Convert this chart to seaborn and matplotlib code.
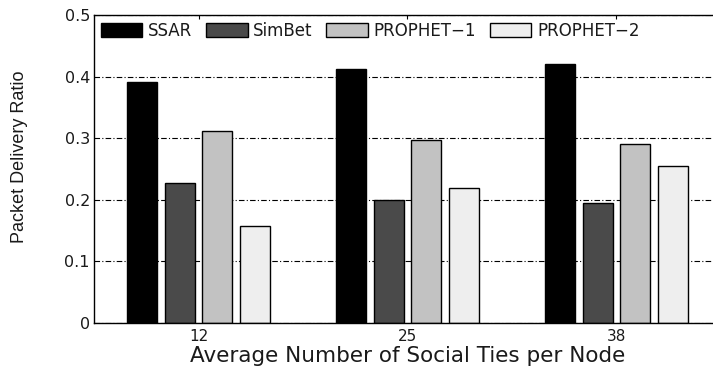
import numpy as np
import pandas as pd
import matplotlib
matplotlib.use('Agg')
import matplotlib.pyplot as plt
import seaborn as sns

# values
ties = ['12', '25', '38']
ssar = [0.392, 0.412, 0.420]
simbet = [0.228, 0.200, 0.194]
prophet1 = [0.311, 0.297, 0.290]
prophet2 = [0.157, 0.219, 0.255]
methods = ['SSAR', 'SimBet', 'PROPHET\u22121', 'PROPHET\u22122']
colors = ['#000000', '#4a4a4a', '#c2c2c2', '#eeeeee']
y_ticks = [0, 0.1, 0.2, 0.3, 0.4, 0.5]
y_labels = ['0', '0.1', '0.2', '0.3', '0.4', '0.5']


def main():
    sns.set_style('white')
    plt.rcParams['font.family'] = ['DejaVu Sans']

    rows = []
    for name, vals in zip(methods, [ssar, simbet, prophet1, prophet2]):
        for t, v in zip(ties, vals):
            rows.append({'ties': t, 'method': name, 'ratio': v})
    df = pd.DataFrame(rows)

    fig = plt.figure(figsize=(7.13, 3.66), dpi=100)
    ax = fig.add_axes([0.132, 0.1175, 0.879, 0.8415])

    sns.barplot(data=df, x='ties', y='ratio', hue='method', order=ties,
                hue_order=methods, palette=colors, width=0.72, gap=0.2,
                edgecolor='black', linewidth=1.0, saturation=1, ax=ax,
                errorbar=None)

    ax.set_xlim(-0.5, 2.5)
    ax.set_ylim(0, 0.5)
    ax.set_yticks(y_ticks)
    ax.set_yticklabels(y_labels)
    ax.set_axisbelow(True)
    ax.yaxis.grid(True, color='black', linestyle=(0, (5, 2, 1, 2)), linewidth=0.8)
    ax.xaxis.grid(False)
    for s in ax.spines.values():
        s.set_color('black')
        s.set_linewidth(1.0)

    txt = '#1a1a1a'
    ax.tick_params(axis='both', direction='in', top=True, right=True,
                   length=3, width=0.8, colors='black', labelcolor=txt)
    ax.tick_params(axis='y', labelsize=11.5, pad=3)
    ax.tick_params(axis='x', labelsize=11, pad=4)
    ax.set_xlabel('Average Number of Social Ties per Node', fontsize=15.5, color=txt)
    ax.xaxis.set_label_coords(0.5, -0.075)
    ax.set_ylabel('Packet Delivery Ratio', fontsize=13, color=txt,
                  family='Liberation Sans')
    ax.yaxis.set_label_coords(-0.106, 0.54)

    leg = ax.legend(loc='upper left', bbox_to_anchor=(0.0, 1.0), ncol=4, frameon=False,
                    fontsize=12, handlelength=2.5, handleheight=0.85,
                    handletextpad=0.35, columnspacing=0.8, borderaxespad=0.1,
                    borderpad=0.3)
    for t in leg.get_texts():
        t.set_color(txt)

    fig.savefig('out.png', dpi=100)
    plt.close('all')


if __name__ == '__main__':
    main()
